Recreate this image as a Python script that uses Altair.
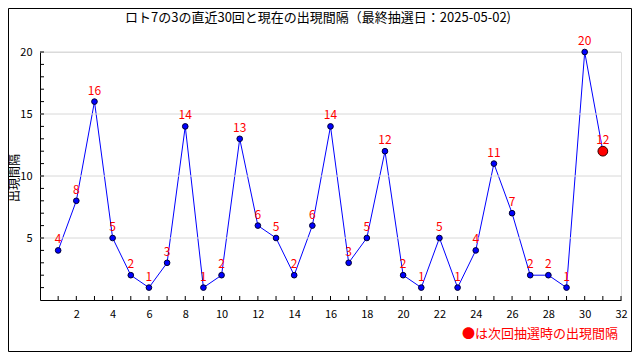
import altair as alt
import pandas as pd

# ---- data ----
draws = list(range(1, 32))
intervals = [4, 8, 16, 5, 2, 1, 3, 14, 1, 2, 13, 6, 5, 2, 6, 14, 3, 5, 12, 2,
             1, 5, 1, 4, 11, 7, 2, 2, 1, 20, 12]
x_tick_values = list(range(1, 33))
x_label_values = list(range(2, 33, 2))
y_tick_values = list(range(1, 21))
y_label_values = [5, 10, 15, 20]
title_text = "ロト7の3の直近30回と現在の出現間隔（最終抽選日：2025-05-02)"
y_title_text = "出現間隔"
note_text = "●は次回抽選時の出現間隔"

FONT = "Noto Sans CJK JP"
W, H = 581, 248

df = pd.DataFrame({"n": draws, "v": intervals})
df_hist = df[df["n"] <= 30]
df_now = df[df["n"] == 31]

xs = alt.Scale(domain=[0, 32], nice=False, zero=False)
ys = alt.Scale(domain=[0, 20], nice=False)

x_axis = alt.Axis(values=x_label_values, ticks=False, grid=False, labelPadding=8,
                  labelFont=FONT, labelFontSize=11, labelColor="black",
                  domainColor="black", title=None, labelFlush=False,
                  labelOverlap=False)
y_axis = alt.Axis(values=y_label_values, ticks=False, grid=False, labelPadding=8,
                  labelFont=FONT, labelFontSize=11, labelColor="black",
                  domainColor="black", title=None, labelOverlap=False,
                  labelFlush=False)


def X(field):
    return alt.X(field, scale=xs, title=None, axis=x_axis)


def Y(field):
    return alt.Y(field, scale=ys, title=None, axis=y_axis)


line = alt.Chart(df).mark_line(color="#0000ff", strokeWidth=1).encode(
    x=X("n:Q"), y=Y("v:Q"),
)

grid = alt.Chart(pd.DataFrame({"g": y_label_values})).mark_rule(
    color="#d8d8d8", strokeWidth=1
).encode(y=Y("g:Q"), x=alt.value(0), x2=alt.value(W))

pts = alt.Chart(df_hist).mark_point(
    filled=True, fill="#0000ff", stroke="#000033", strokeWidth=1, size=32, opacity=1
).encode(x=X("n:Q"), y=Y("v:Q"))

now_pt = alt.Chart(df_now).mark_point(
    filled=True, fill="#ff0000", stroke="#330000", strokeWidth=1, size=95, opacity=1
).encode(x=X("n:Q"), y=Y("v:Q"))

labels = alt.Chart(df).mark_text(
    color="#ff0000", font=FONT, fontSize=12, dy=-11
).encode(x=X("n:Q"), y=Y("v:Q"), text="v:Q")

xticks = alt.Chart(pd.DataFrame({"t": x_tick_values})).mark_rule(
    color="black", strokeWidth=1
).encode(x=X("t:Q"), y=alt.value(H), y2=alt.value(H - 4))

yticks = alt.Chart(pd.DataFrame({"t": y_tick_values})).mark_rule(
    color="black", strokeWidth=1
).encode(y=Y("t:Q"), x=alt.value(0), x2=alt.value(4))

title = alt.Chart(pd.DataFrame({"t": [title_text]})).mark_text(
    font=FONT, fontSize=13, color="black", align="center", baseline="middle"
).encode(text="t:N", x=alt.value(278), y=alt.value(-34))

ytitle = alt.Chart(pd.DataFrame({"t": [y_title_text]})).mark_text(
    font=FONT, fontSize=12, color="black", align="center", baseline="middle", angle=270
).encode(text="t:N", x=alt.value(-25), y=alt.value(126))

note = alt.Chart(pd.DataFrame({"t": [note_text]})).mark_text(
    font=FONT, fontSize=13, color="#ff0000", align="right", baseline="middle"
).encode(text="t:N", x=alt.value(578), y=alt.value(282))

frame = alt.Chart(pd.DataFrame({"a": [0]})).mark_rect(
    fill=None, stroke="black", strokeWidth=1
).encode(x=alt.value(-31.5), x2=alt.value(W + 10.5), y=alt.value(-43.5), y2=alt.value(H + 51.5))

chart = alt.layer(
    line, grid, xticks, yticks, pts, now_pt, labels, title, ytitle, note, frame
).properties(
    width=W, height=H,
    autosize=alt.AutoSizeParams(type="none"),
    padding={"left": 32, "top": 44, "right": 11, "bottom": 52},
).configure_view(stroke=None).configure(background="white")

chart.save("out.html", embed_options={"renderer": "svg", "actions": False})
